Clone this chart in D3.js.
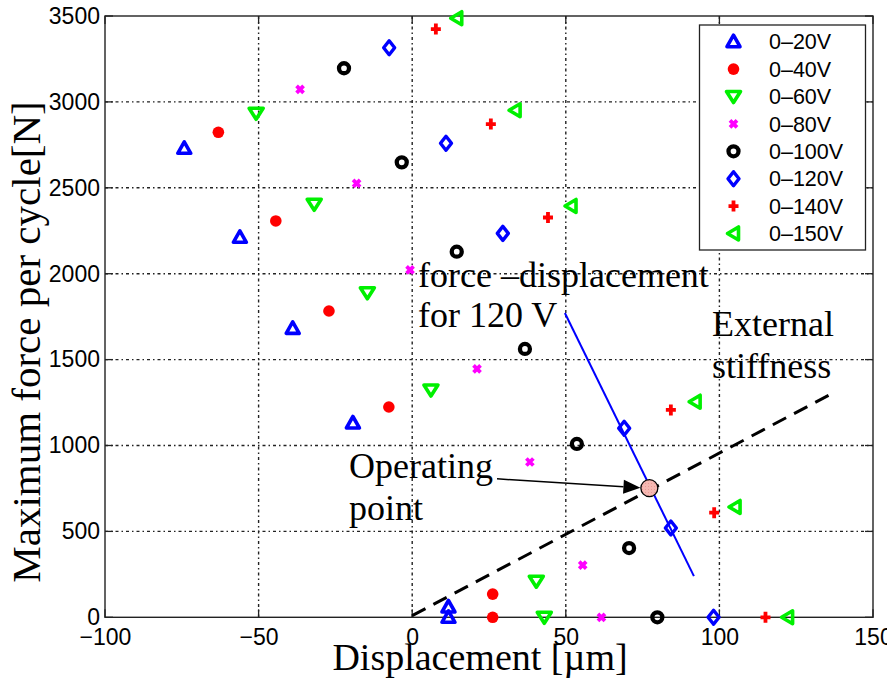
<!DOCTYPE html>
<html>
<head>
<meta charset="utf-8">
<script src="https://cdn.jsdelivr.net/npm/d3@7/dist/d3.min.js"></script>
<style>
  html, body { margin: 0; padding: 0; background: #fff; }
  svg { display: block; }
</style>
</head>
<body>
<svg id="chart" width="887" height="681"></svg>
<script>
// ---------------- data ----------------
const seriesNames = ["0–20V", "0–40V", "0–60V", "0–80V", "0–100V", "0–120V", "0–140V", "0–150V"];
const seriesColors = ["#0000ff", "#ff0000", "#00f000", "#ff00ff", "#000000", "#0000ff", "#ff0000", "#00f000"];
const seriesMarkers = ["triUp", "dot", "triDown", "cross", "circle", "diamond", "plus", "triLeft"];

const s20 = [[-74.2, 2730], [-56.1, 2212], [-38.9, 1682], [-19.3, 1131], [11.8, 60], [11.8, 0]];
const s40 = [[-63.1, 2823], [-44.4, 2307], [-27.1, 1783], [-7.6, 1224], [26.2, 135], [26.2, 0]];
const s60 = [[-50.8, 2934], [-31.9, 2404], [-14.6, 1889], [6.1, 1323], [40.4, 210], [43.0, 0]];
const s80 = [[-36.5, 3073], [-18.1, 2526], [-0.7, 2022], [21.1, 1446], [38.3, 904], [55.5, 304], [61.6, 0]];
const s100 = [[-22.2, 3196], [-3.4, 2648], [14.5, 2128], [36.7, 1562], [53.6, 1009], [70.6, 403], [79.8, 0]];
const s120 = [[-7.5, 3315], [11.0, 2759], [29.5, 2235], [69.0, 1100], [84.2, 520], [98.1, 0]];
const s140 = [[7.7, 3424], [25.6, 2871], [44.2, 2327], [84.2, 1207], [98.3, 609], [115.0, 0]];
const s150 = [[14.5, 3487], [33.5, 2951], [51.7, 2394], [92.1, 1255], [105.1, 642], [122.2, 0]];
const seriesData = [s20, s40, s60, s80, s100, s120, s140, s150];

const xTicks = [-100, -50, 0, 50, 100, 150];
const yTicks = [0, 500, 1000, 1500, 2000, 2500, 3000, 3500];

// annotation lines
const line120V = [[49.7, 1771], [91.7, 240]];      // force-displacement for 120 V
const stiffLine = [[0, 10], [137, 1306]];           // external stiffness
const opPoint = [77.2, 752];                         // operating point
const arrowLine = [[27.6, 806], [74.3, 754]];        // arrow from label to point

// ---------------- layout ----------------
const svg = d3.select("#chart");
const L = 105, R = 873, T = 16, B = 617.3;
const x = d3.scaleLinear().domain([-100, 150]).range([L, R]);
const y = d3.scaleLinear().domain([0, 3500]).range([B, T]);

const sans = "'Liberation Sans', Arial, Helvetica, sans-serif";
const serif = "'Liberation Serif', 'Times New Roman', serif";

// grid
const grid = svg.append("g");
grid.selectAll("line.gx").data(xTicks.slice(1, -1)).enter().append("line")
  .attr("x1", d => x(d)).attr("x2", d => x(d)).attr("y1", T).attr("y2", B)
  .attr("stroke", "#222").attr("stroke-width", 1.4).attr("stroke-dasharray", "3,3,1.5,3");
grid.selectAll("line.gy").data(yTicks.slice(1, -1)).enter().append("line")
  .attr("y1", d => y(d)).attr("y2", d => y(d)).attr("x1", L).attr("x2", R)
  .attr("stroke", "#222").attr("stroke-width", 1.4).attr("stroke-dasharray", "3,3,1.5,3");

// axes
const fmt = d => d < 0 ? "\u2212" + Math.abs(d) : String(d);
const xAxisB = d3.axisBottom(x).tickValues(xTicks).tickSize(0).tickPadding(11).tickFormat(fmt);
const yAxisL = d3.axisLeft(y).tickValues(yTicks).tickSize(0).tickPadding(5).tickFormat(fmt);
const gx = svg.append("g").attr("transform", `translate(0,${B})`).call(xAxisB);
const gy = svg.append("g").attr("transform", `translate(${L},0)`).call(yAxisL);
[gx, gy].forEach(g => {
  g.select(".domain").remove();
  g.selectAll("text").attr("font-family", sans).attr("font-size", 23).attr("fill", "#000");
});
gx.selectAll("text").attr("dy", "0.71em");

// inward ticks on all four sides
const tk = 8;
const ticksG = svg.append("g").attr("stroke", "#222").attr("stroke-width", 1.3);
xTicks.forEach(v => {
  ticksG.append("line").attr("x1", x(v)).attr("x2", x(v)).attr("y1", B).attr("y2", B - tk);
  ticksG.append("line").attr("x1", x(v)).attr("x2", x(v)).attr("y1", T).attr("y2", T + tk);
});
yTicks.forEach(v => {
  ticksG.append("line").attr("y1", y(v)).attr("y2", y(v)).attr("x1", L).attr("x2", L + tk);
  ticksG.append("line").attr("y1", y(v)).attr("y2", y(v)).attr("x1", R).attr("x2", R - tk);
});
svg.append("rect").attr("x", L).attr("y", T).attr("width", R - L).attr("height", B - T)
  .attr("fill", "none").attr("stroke", "#222").attr("stroke-width", 1.4);

// marker drawing
function drawMarker(g, type, color) {
  switch (type) {
    case "triUp":
      g.append("path").attr("d", "M0,-6.5 L6.5,5 L-6.5,5 Z").attr("fill", "none")
        .attr("stroke", color).attr("stroke-width", 3.6).attr("stroke-linejoin", "round"); break;
    case "dot":
      g.append("circle").attr("r", 5.8).attr("fill", color); break;
    case "triDown":
      g.append("path").attr("d", "M0,6 L7,-5 L-7,-5 Z").attr("fill", "none")
        .attr("stroke", color).attr("stroke-width", 3.6).attr("stroke-linejoin", "round"); break;
    case "cross":
      g.append("path").attr("d", "M-3.5,-3.5 L3.5,3.5 M-3.5,3.5 L3.5,-3.5").attr("fill", "none")
        .attr("stroke", color).attr("stroke-width", 3.8); break;
    case "circle":
      g.append("circle").attr("r", 5).attr("fill", "none").attr("stroke", color).attr("stroke-width", 4.3); break;
    case "diamond":
      g.append("path").attr("d", "M0,-7 L5.5,0 L0,7 L-5.5,0 Z").attr("fill", "none")
        .attr("stroke", color).attr("stroke-width", 3.4).attr("stroke-linejoin", "round"); break;
    case "plus":
      g.append("path").attr("d", "M-5,0 L5,0 M0,-5.5 L0,5.5").attr("fill", "none")
        .attr("stroke", color).attr("stroke-width", 3.8); break;
    case "triLeft":
      g.append("path").attr("d", "M-6,0 L5,-6.5 L5,6.5 Z").attr("fill", "none")
        .attr("stroke", color).attr("stroke-width", 3.6).attr("stroke-linejoin", "round"); break;
  }
}

// lines (stiffness dashed + 120V blue)
const lineGen = d3.line().x(d => x(d[0])).y(d => y(d[1]));
svg.append("path").attr("d", lineGen(stiffLine)).attr("fill", "none")
  .attr("stroke", "#000").attr("stroke-width", 3).attr("stroke-dasharray", "15,9");
svg.append("path").attr("d", lineGen(line120V)).attr("fill", "none")
  .attr("stroke", "#0000ff").attr("stroke-width", 2);

// data points
seriesData.forEach((pts, i) => {
  const g = svg.append("g");
  pts.forEach(p => {
    const m = g.append("g").attr("transform", `translate(${x(p[0])},${y(p[1])})`);
    drawMarker(m, seriesMarkers[i], seriesColors[i]);
  });
});

// operating point + arrow
const defs = svg.append("defs");
const pat = defs.append("pattern").attr("id", "hatch").attr("patternUnits", "userSpaceOnUse")
  .attr("width", 3).attr("height", 3);
pat.append("rect").attr("width", 3).attr("height", 3).attr("fill", "#f6b8b2");
pat.append("rect").attr("width", 1).attr("height", 1).attr("fill", "#e89a94");
svg.append("circle").attr("cx", x(opPoint[0])).attr("cy", y(opPoint[1])).attr("r", 8.5)
  .attr("fill", "url(#hatch)").attr("stroke", "#000").attr("stroke-width", 1.3);

const ax0 = x(arrowLine[0][0]), ay0 = y(arrowLine[0][1]);
const ax1 = x(arrowLine[1][0]), ay1 = y(arrowLine[1][1]);
const ang = Math.atan2(ay1 - ay0, ax1 - ax0);
const hl = 17, hw = 7;
const bx = ax1 - hl * Math.cos(ang), by = ay1 - hl * Math.sin(ang);
svg.append("line").attr("x1", ax0).attr("y1", ay0).attr("x2", bx).attr("y2", by)
  .attr("stroke", "#000").attr("stroke-width", 1.5);
svg.append("path")
  .attr("d", `M${ax1},${ay1} L${bx + hw * Math.sin(ang)},${by - hw * Math.cos(ang)} L${bx - hw * Math.sin(ang)},${by + hw * Math.cos(ang)} Z`)
  .attr("fill", "#000");

// annotation text
const ann = svg.append("g").attr("font-family", serif).attr("font-size", 36).attr("fill", "#000");
ann.append("text").attr("x", 418).attr("y", 287).text("force \u2013displacement");
ann.append("text").attr("x", 418).attr("y", 327).text("for 120 V");
ann.append("text").attr("x", 712).attr("y", 336).text("External");
ann.append("text").attr("x", 712).attr("y", 378).text("stiffness");
ann.append("text").attr("x", 349).attr("y", 478).text("Operating");
ann.append("text").attr("x", 349).attr("y", 520).text("point");

// legend
const lg = svg.append("g");
lg.append("rect").attr("x", 699.5).attr("y", 25).attr("width", 166).attr("height", 225)
  .attr("fill", "#fff").attr("stroke", "#222").attr("stroke-width", 1.3);
seriesNames.forEach((name, i) => {
  const yy = 41.7 + i * 27.4;
  const m = lg.append("g").attr("transform", `translate(733.5,${yy})`);
  drawMarker(m, seriesMarkers[i], seriesColors[i]);
  lg.append("text").attr("x", 769).attr("y", yy).attr("dy", "0.36em")
    .attr("font-family", sans).attr("font-size", 21.5).attr("fill", "#000").text(name);
});

// axis labels
svg.append("text").attr("x", (L + R) / 2 - 9).attr("y", 670).attr("text-anchor", "middle")
  .attr("font-family", serif).attr("font-size", 38).text("Displacement [\u00b5m]");
svg.append("text").attr("transform", `translate(40,342) rotate(-90)`).attr("text-anchor", "middle")
  .attr("font-family", serif).attr("font-size", 41).text("Maximum force per cycle[N]");
</script>
</body>
</html>
